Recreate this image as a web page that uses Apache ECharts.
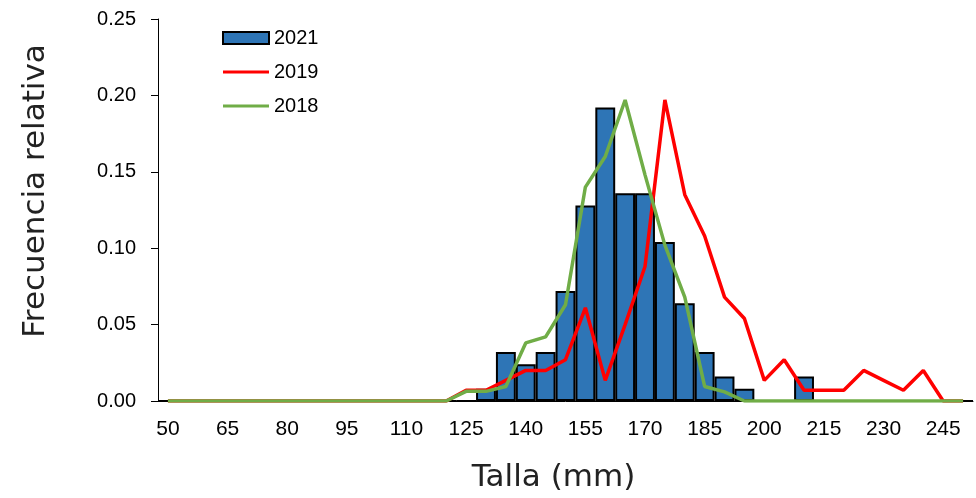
<!DOCTYPE html>
<html>
<head>
<meta charset="utf-8">
<script src="https://cdn.jsdelivr.net/npm/echarts@6/dist/echarts.min.js"></script>
<style>
  html, body { margin: 0; padding: 0; background: #fff; }
  #chart { width: 976px; height: 498px; }
</style>
</head>
<body>
<div id="chart"></div>
<script>
// tallas 50..250 cada 5 mm
var tallas = [];
for (var t = 50; t <= 250; t += 5) tallas.push(String(t));

// 2021 (barras), desde 50 hasta 250
var f2021 = [0,0,0,0,0,0,0,0,0,0,0,0,0,0,0,0,
  0.008, 0.032, 0.024, 0.032, 0.072, 0.128, 0.192, 0.136, 0.136, 0.104, 0.064, 0.032, 0.016, 0.008,
  0, 0, 0.016, 0, 0, 0, 0, 0, 0, 0, 0];

// 2019
var f2019 = [0,0,0,0,0,0,0,0,0,0,0,0,0,0,0,
  0.007, 0.007, 0.0135, 0.020, 0.020, 0.027, 0.061, 0.0135, 0.050, 0.088, 0.197, 0.135, 0.108, 0.068, 0.054,
  0.0135, 0.027, 0.007, 0.007, 0.007, 0.020, 0.0135, 0.007, 0.020, 0, 0];

// 2018
var f2018 = [0,0,0,0,0,0,0,0,0,0,0,0,0,0,0,
  0.0063, 0.0063, 0.0095, 0.038, 0.042, 0.063, 0.140, 0.160, 0.197, 0.148, 0.102, 0.068, 0.0095, 0.006,
  0, 0, 0, 0, 0, 0, 0, 0, 0, 0, 0, 0];

// icono de linea para la leyenda (banda fina centrada en 46x12)
var lineIcon = 'path://M0,0 L0.01,0 Z M0,4.5 H46 V7.5 H0 Z M0,12 L0.01,12 Z';

var chart = echarts.init(document.getElementById('chart'));
chart.setOption({
  animation: false,
  textStyle: { fontFamily: 'Liberation Sans, Arial, sans-serif' },
  legend: {
    orient: 'vertical',
    left: 222,
    top: 28,
    padding: 0,
    itemWidth: 46,
    itemHeight: 12,
    itemGap: 14,
    textStyle: { color: '#000', fontSize: 20 },
    data: [
      { name: '2021', icon: 'rect' },
      { name: '2019', icon: lineIcon },
      { name: '2018', icon: lineIcon }
    ]
  },
  grid: { left: 158, right: 3, top: 19, bottom: 95 },
  xAxis: {
    type: 'category',
    data: tallas,
    boundaryGap: true,
    name: 'Talla (mm)',
    nameLocation: 'middle',
    nameGap: 61,
    nameTextStyle: { fontFamily: 'DejaVu Sans', fontSize: 31, color: '#222', padding: [0, 24, 0, 0] },
    axisLine: { lineStyle: { color: '#000', width: 1 } },
    axisTick: { interval: 0, length: 6, lineStyle: { color: '#777' } },
    axisLabel: { interval: 2, color: '#000', fontSize: 21, margin: 18 }
  },
  yAxis: {
    type: 'value',
    min: 0,
    max: 0.25,
    interval: 0.05,
    name: 'Frecuencia relativa',
    nameLocation: 'middle',
    nameGap: 107,
    nameTextStyle: { fontFamily: 'DejaVu Sans', fontSize: 31, color: '#222', padding: [0, 0, 0, 38] },
    axisLine: { show: true, lineStyle: { color: '#000', width: 1 } },
    axisTick: { show: true, length: 7, lineStyle: { color: '#000' } },
    splitLine: { show: false },
    axisLabel: {
      color: '#000',
      fontSize: 20,
      margin: 22,
      formatter: function (v) { return v.toFixed(2); }
    }
  },
  series: [
    {
      name: '2021',
      type: 'bar',
      data: f2021,
      barCategoryGap: '0%',
      itemStyle: { color: '#2E75B6', borderColor: '#000', borderWidth: 2 }
    },
    {
      name: '2019',
      type: 'line',
      data: f2019,
      symbol: 'none',
      color: '#FF0000',
      lineStyle: { color: '#FF0000', width: 3.5 }
    },
    {
      name: '2018',
      type: 'line',
      data: f2018,
      symbol: 'none',
      color: '#70AD47',
      lineStyle: { color: '#70AD47', width: 3.5 }
    }
  ]
});
</script>
</body>
</html>
